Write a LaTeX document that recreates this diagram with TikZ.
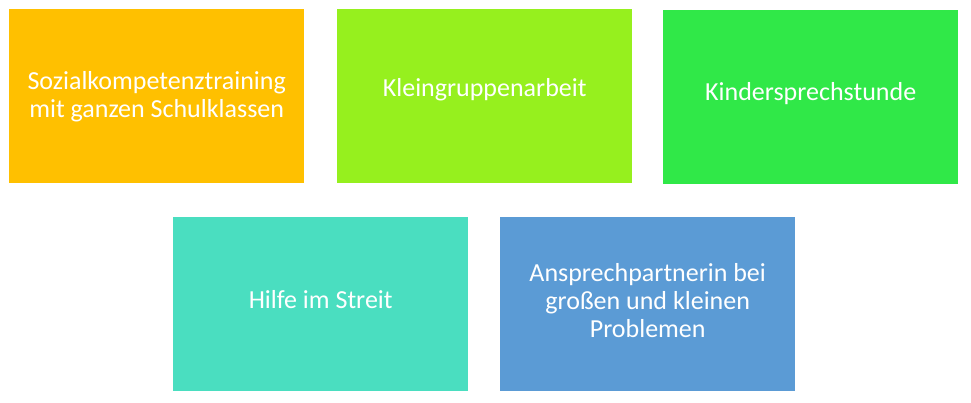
\documentclass[tikz,border=0pt]{standalone}
\usepackage{fontspec}
\setmainfont{Carlito}
\definecolor{cOrange}{HTML}{FFC000}
\definecolor{cLime}{HTML}{96F01E}
\definecolor{cGreen}{HTML}{30E848}
\definecolor{cTeal}{HTML}{4ADEC0}
\definecolor{cBlue}{HTML}{5B9BD5}
\begin{document}
\begin{tikzpicture}[x=1pt,y=-1pt,
  box/.style={draw=none, minimum width=295pt, minimum height=174pt, inner sep=0pt, anchor=north west},
  lbl/.style={text=white, font=\fontsize{26}{28}\selectfont, align=center, inner sep=0pt}]
\useasboundingbox (0,0) rectangle (971,403);
\fill[white] (0,0) rectangle (971,403);
\node[box, fill=cOrange] (b1) at (9,9) {};
\node[box, fill=cLime] (b2) at (337,9) {};
\node[box, fill=cGreen] (b3) at (663,10) {};
\node[box, fill=cTeal] (b4) at (173,217) {};
\node[box, fill=cBlue] (b5) at (500,217) {};
\node[lbl] (t1) at ([yshift=-1pt]b1.center) {Sozialkompetenztraining\\mit ganzen Schulklassen};
\node[lbl] (t2) at ([yshift=6pt]b2.center) {Kleingruppenarbeit};
\node[lbl] (t3) at ([yshift=4pt]b3.center) {Kindersprechstunde};
\node[lbl] (t4) at ([yshift=5pt]b4.center) {Hilfe im Streit};
\node[lbl] (t5) at ([yshift=4pt]b5.center) {Ansprechpartnerin bei\\großen und kleinen\\Problemen};
\end{tikzpicture}
\end{document}
